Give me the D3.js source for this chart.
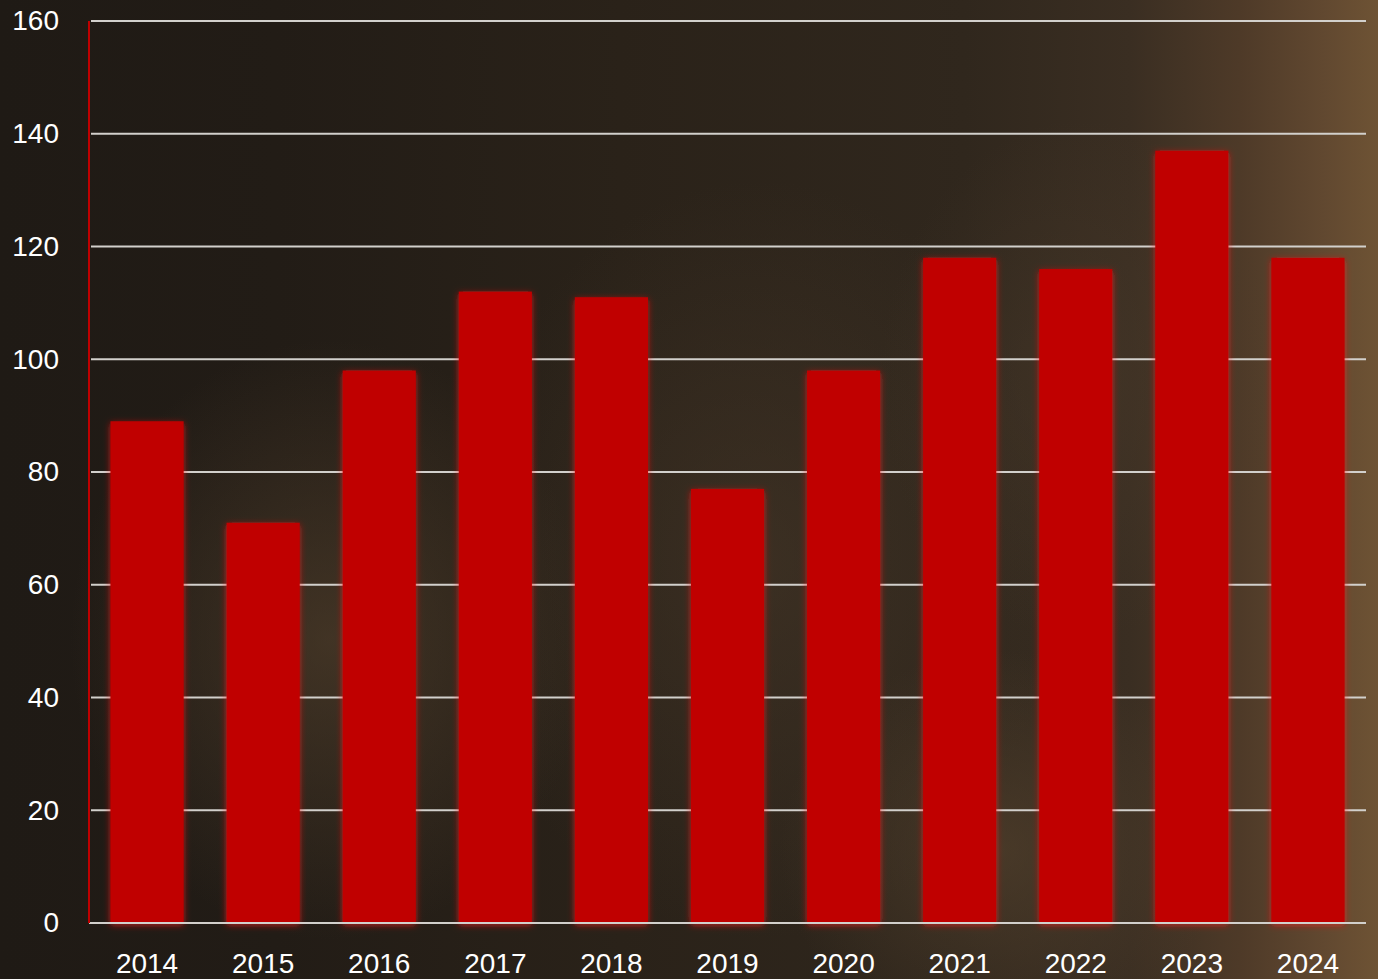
<!DOCTYPE html>
<html>
<head>
<meta charset="utf-8">
<script src="https://cdn.jsdelivr.net/npm/d3@7"></script>
<style>
  html, body { margin: 0; padding: 0; background: #201a15; }
  svg { display: block; }
</style>
</head>
<body>
<div id="chart"></div>
<script>
// data
var years = ['2014', '2015', '2016', '2017', '2018', '2019', '2020', '2021', '2022', '2023', '2024'];
var values = [89, 71, 98, 112, 111, 77, 98, 118, 116, 137, 118];
var yTicks = [0, 20, 40, 60, 80, 100, 120, 140, 160];

var width = 1378, height = 979;
var margin = { top: 21, right: 12, bottom: 56, left: 89 };

var svg = d3.select('#chart').append('svg')
    .attr('width', width)
    .attr('height', height);

var defs = svg.append('defs');

// background: dark left, warm brown towards the right
var bg = defs.append('linearGradient').attr('id', 'bg').attr('x1', 0).attr('x2', 1).attr('y1', 0).attr('y2', 0);
[[0, '#1f1a15'], [0.2, '#221c16'], [0.45, '#2a2219'], [0.7, '#30271d'], [0.82, '#3a2e22'], [0.9, '#4e3a28'], [0.96, '#614830'], [1, '#6e5334']]
    .forEach(function (s) { bg.append('stop').attr('offset', s[0]).attr('stop-color', s[1]); });

var glow1 = defs.append('radialGradient').attr('id', 'glow1');
glow1.append('stop').attr('offset', 0).attr('stop-color', '#5a4630').attr('stop-opacity', 0.55);
glow1.append('stop').attr('offset', 1).attr('stop-color', '#5a4630').attr('stop-opacity', 0);

var glow2 = defs.append('radialGradient').attr('id', 'glow2');
glow2.append('stop').attr('offset', 0).attr('stop-color', '#4a3a2a').attr('stop-opacity', 0.5);
glow2.append('stop').attr('offset', 1).attr('stop-color', '#4a3a2a').attr('stop-opacity', 0);

var shadow = defs.append('filter').attr('id', 'barGlow')
    .attr('x', '-20%').attr('y', '-5%').attr('width', '140%').attr('height', '110%');
shadow.append('feDropShadow').attr('dx', 0).attr('dy', 2).attr('stdDeviation', 3.5)
    .attr('flood-color', '#ff1a1a').attr('flood-opacity', 0.7);

svg.append('rect').attr('width', width).attr('height', height).attr('fill', 'url(#bg)');
svg.append('ellipse').attr('cx', 330).attr('cy', 640).attr('rx', 260).attr('ry', 300).attr('fill', 'url(#glow1)');
svg.append('ellipse').attr('cx', 760).attr('cy', 560).attr('rx', 300).attr('ry', 380).attr('fill', 'url(#glow2)');
svg.append('ellipse').attr('cx', 1000).attr('cy', 850).attr('rx', 220).attr('ry', 200).attr('fill', 'url(#glow1)');
svg.append('ellipse').attr('cx', 1080).attr('cy', 380).attr('rx', 200).attr('ry', 260).attr('fill', 'url(#glow2)');

var x = d3.scaleBand()
    .domain(years)
    .range([margin.left, width - margin.right])
    .paddingInner(0.37)
    .paddingOuter(0.185);

var y = d3.scaleLinear()
    .domain([0, 160])
    .range([height - margin.bottom, margin.top]);

// gridlines
svg.append('g')
    .selectAll('line')
    .data(yTicks.filter(function (d) { return d > 0; }))
    .enter()
    .append('line')
    .attr('x1', margin.left + 2)
    .attr('x2', width - margin.right)
    .attr('y1', function (d) { return y(d); })
    .attr('y2', function (d) { return y(d); })
    .attr('stroke', '#d2d0cc')
    .attr('stroke-width', 2);

// bars
svg.append('g')
    .selectAll('rect')
    .data(values)
    .enter()
    .append('rect')
    .attr('x', function (d, i) { return x(years[i]); })
    .attr('y', function (d) { return y(d); })
    .attr('width', x.bandwidth())
    .attr('height', function (d) { return y(0) - y(d); })
    .attr('fill', '#c00000')
    .attr('filter', 'url(#barGlow)');

// baseline
svg.append('line')
    .attr('x1', margin.left)
    .attr('x2', width - margin.right)
    .attr('y1', y(0))
    .attr('y2', y(0))
    .attr('stroke', '#d2d0cc')
    .attr('stroke-width', 2);

// red y axis line
svg.append('line')
    .attr('x1', margin.left)
    .attr('x2', margin.left)
    .attr('y1', y(160))
    .attr('y2', y(0))
    .attr('stroke', '#c00000')
    .attr('stroke-width', 2);

// y tick labels
var yAxis = d3.axisLeft(y).tickValues(yTicks).tickSize(0).tickPadding(30);
var gy = svg.append('g')
    .attr('transform', 'translate(' + margin.left + ',0)')
    .call(yAxis);
gy.select('.domain').remove();
gy.selectAll('text')
    .attr('fill', '#ffffff')
    .style('font-family', '"Liberation Sans", Arial, sans-serif')
    .style('font-size', '28px');

// x tick labels
var xAxis = d3.axisBottom(x).tickSize(0).tickPadding(30);
var gx = svg.append('g')
    .attr('transform', 'translate(0,' + y(0) + ')')
    .call(xAxis);
gx.select('.domain').remove();
gx.selectAll('text')
    .attr('fill', '#ffffff')
    .style('font-family', '"Liberation Sans", Arial, sans-serif')
    .style('font-size', '28px');
</script>
</body>
</html>
